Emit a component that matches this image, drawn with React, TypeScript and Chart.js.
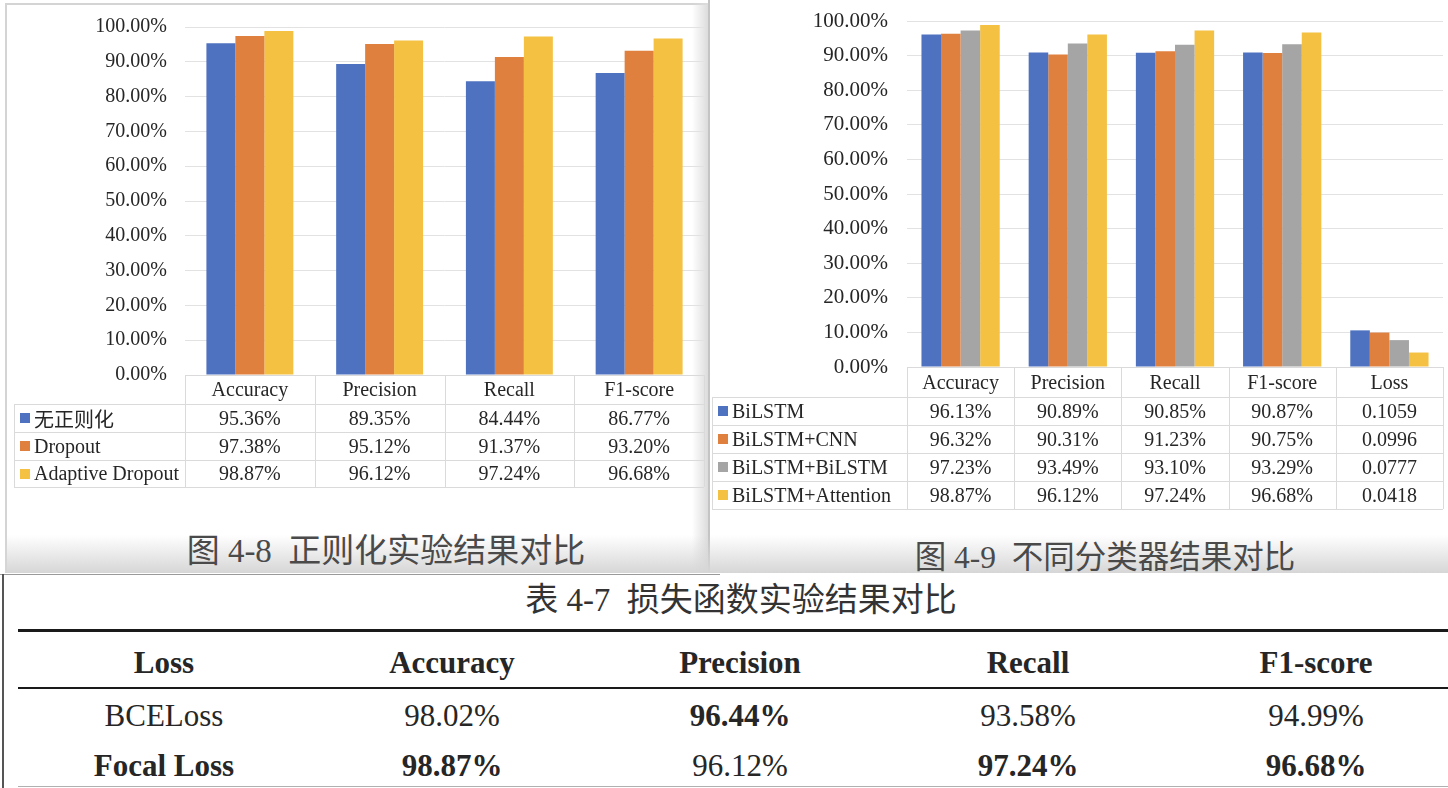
import React, { useEffect, useRef } from 'react';
import { Chart, registerables } from 'chart.js';

Chart.register(...registerables);

// ---------- Data: Fig 4-8 ----------
const leftCategories = ['Accuracy', 'Precision', 'Recall', 'F1-score'];
const leftSeriesNames = ['无正则化', 'Dropout', 'Adaptive Dropout'];
const leftNoReg = [95.36, 89.35, 84.44, 86.77];
const leftDropout = [97.38, 95.12, 91.37, 93.2];
const leftAdaptive = [98.87, 96.12, 97.24, 96.68];

// ---------- Data: Fig 4-9 ----------
const rightCategories = ['Accuracy', 'Precision', 'Recall', 'F1-score', 'Loss'];
const rightSeriesNames = ['BiLSTM', 'BiLSTM+CNN', 'BiLSTM+BiLSTM', 'BiLSTM+Attention'];
const rightBiLSTM = [96.13, 90.89, 90.85, 90.87];
const rightCNN = [96.32, 90.31, 91.23, 90.75];
const rightBiBi = [97.23, 93.49, 93.1, 93.29];
const rightAttention = [98.87, 96.12, 97.24, 96.68];
const rightLoss = [0.1059, 0.0996, 0.0777, 0.0418];

// ---------- Data: Table 4-7 ----------
const lossHeaders = ['Loss', 'Accuracy', 'Precision', 'Recall', 'F1-score'];
const lossNames = ['BCELoss', 'Focal Loss'];
const bceValues = [98.02, 96.44, 93.58, 94.99];
const focalValues = [98.87, 96.12, 97.24, 96.68];

// ---------- Axis ----------
const yMin = 0;
const yMax = 100;
const yStep = 10;

const seriesColors = ['#4e72c0', '#e0803f', '#a5a5a5', '#f4c142'];
const SERIF = '"Liberation Serif", "Times New Roman", "Noto Sans CJK SC", serif';
const TEXT = '#262626';
const LINE = '#dadada';

const pct = (v: number) => v.toFixed(2) + '%';

type BarProps = {
  width: number;
  height: number;
  categories: string[];
  series: { name: string; data: number[]; color: string }[];
  padding: { top: number; right: number; bottom: number; left: number };
  axisWidth: number;
  tickGap: number;
  tickSize: number;
  groupFraction: number;
  style: React.CSSProperties;
};

function BarChart(props: BarProps) {
  const ref = useRef<HTMLCanvasElement | null>(null);
  useEffect(() => {
    if (!ref.current) return;
    const chart = new Chart(ref.current, {
      type: 'bar',
      data: {
        labels: props.categories,
        datasets: props.series.map((s) => ({
          label: s.name,
          data: s.data,
          backgroundColor: s.color,
          borderWidth: 0,
          barPercentage: 1,
          categoryPercentage: props.groupFraction,
        })),
      },
      options: {
        responsive: false,
        animation: false,
        layout: { padding: props.padding },
        plugins: { legend: { display: false }, tooltip: { enabled: false } },
        scales: {
          x: { display: false, grid: { display: false } },
          y: {
            min: yMin,
            max: yMax,
            ticks: {
              stepSize: yStep,
              padding: 0,
              color: TEXT,
              font: { family: SERIF, size: props.tickSize },
              callback: (v: any) => pct(Number(v)),
            },
            grid: {
              color: '#e2e2e2',
              drawTicks: true,
              tickLength: props.tickGap,
              tickColor: 'rgba(0,0,0,0)',
              lineWidth: 1,
            },
            border: { display: false },
            afterFit: (s: any) => {
              s.width = props.axisWidth;
            },
          },
        },
      } as any,
    });
    return () => chart.destroy();
  }, []);
  return (
    <canvas
      ref={ref}
      width={props.width}
      height={props.height}
      style={{ position: 'absolute', display: 'block', ...props.style }}
    />
  );
}

const HLine = ({ x1, x2, y, c = LINE, w = 1 }: any) => (
  <div style={{ position: 'absolute', left: x1, top: y, width: x2 - x1, height: w, background: c }} />
);
const VLine = ({ x, y1, y2, c = LINE, w = 1 }: any) => (
  <div style={{ position: 'absolute', left: x, top: y1, width: w, height: y2 - y1, background: c }} />
);
const Cell = ({ x, y, w, h, children, size = 20, bold = false, align = 'center', color = TEXT }: any) => (
  <div
    style={{
      position: 'absolute',
      left: x,
      top: y,
      width: w,
      height: h,
      display: 'flex',
      alignItems: 'center',
      justifyContent: align === 'center' ? 'center' : 'flex-start',
      fontFamily: SERIF,
      fontSize: size,
      fontWeight: bold ? 'bold' : 'normal',
      color,
      whiteSpace: 'pre',
    }}
  >
    {children}
  </div>
);

function DataTable({
  left,
  right,
  legendLeft,
  top,
  headerH,
  rowTops,
  categories,
  names,
  colors,
  values,
}: any) {
  const n = categories.length;
  const cw = (right - left) / n;
  const bottom = rowTops[rowTops.length - 1];
  const els: any[] = [];
  els.push(<HLine key="t" x1={left} x2={right} y={top} />);
  for (let i = 0; i <= n; i++) {
    els.push(<VLine key={'v' + i} x={Math.round(left + i * cw)} y1={top} y2={bottom} />);
  }
  els.push(<VLine key="vl" x={legendLeft} y1={rowTops[0]} y2={bottom} />);
  rowTops.forEach((y: number, i: number) => {
    els.push(<HLine key={'h' + i} x1={legendLeft} x2={right} y={y} />);
  });
  categories.forEach((c: string, i: number) => {
    els.push(
      <Cell key={'c' + i} x={left + i * cw} y={top} w={cw} h={headerH}>
        {c}
      </Cell>
    );
  });
  names.forEach((nm: string, r: number) => {
    const y = rowTops[r];
    const h = rowTops[r + 1] - y;
    els.push(
      <div
        key={'sq' + r}
        style={{ position: 'absolute', left: legendLeft + 6, top: y + h / 2 - 5, width: 10, height: 10, background: colors[r] }}
      />
    );
    els.push(
      <Cell key={'n' + r} x={legendLeft + 20} y={y} w={left - legendLeft - 20} h={h} align="left">
        {nm}
      </Cell>
    );
    values[r].forEach((v: string, i: number) => {
      els.push(
        <Cell key={'d' + r + '_' + i} x={left + i * cw} y={y} w={cw} h={h}>
          {v}
        </Cell>
      );
    });
  });
  return <>{els}</>;
}

export default function App() {
  const leftSeries = [leftNoReg, leftDropout, leftAdaptive].map((d, i) => ({
    name: leftSeriesNames[i],
    data: d,
    color: seriesColors[i === 2 ? 3 : i],
  }));
  const leftColors = [seriesColors[0], seriesColors[1], seriesColors[3]];
  const rightRaw = [rightBiLSTM, rightCNN, rightBiBi, rightAttention];
  const rightSeries = rightRaw.map((d, i) => ({
    name: rightSeriesNames[i],
    data: [...d, rightLoss[i] * 100],
    color: seriesColors[i],
  }));

  const leftValues = [leftNoReg, leftDropout, leftAdaptive].map((d) => d.map(pct));
  const rightValues = rightRaw.map((d, i) => [...d.map(pct), rightLoss[i].toFixed(4)]);

  const lossRows = [bceValues, focalValues];
  const colStart = 20;
  const colW = 288;

  return (
    <div
      style={{
        position: 'absolute',
        left: 0,
        top: 0,
        width: 1448,
        height: 788,
        overflow: 'hidden',
        background: '#ffffff',
      }}
    >
      {/* left panel frame */}
      <HLine x1={5} x2={710} y={3} c="#d4d4d4" w={2} />
      <VLine x={5} y1={3} y2={572} c="#d4d4d4" w={2} />
      <div
        style={{
          position: 'absolute',
          left: 692,
          top: 3,
          width: 16,
          height: 570,
          background: 'linear-gradient(to right, rgba(230,230,230,0), #dcdcdc)',
        }}
      />
      <VLine x={708} y1={0} y2={572} c="#c4c4c4" w={2} />
      <div
        style={{
          position: 'absolute',
          left: 5,
          top: 535,
          width: 1443,
          height: 38,
          background: 'linear-gradient(to bottom, rgba(235,235,235,0), #d6d6d6)',
        }}
      />

      <BarChart
        width={708}
        height={390}
        categories={leftCategories}
        series={leftSeries}
        padding={{ top: 27, right: 4, bottom: 15, left: 0 }}
        axisWidth={185}
        tickGap={18}
        tickSize={20}
        groupFraction={0.67}
        style={{ left: 0, top: 0 }}
      />
      <DataTable
        left={185}
        right={704}
        legendLeft={14}
        top={375}
        headerH={29}
        rowTops={[404, 432, 460, 487]}
        categories={leftCategories}
        names={leftSeriesNames}
        colors={leftColors}
        values={leftValues}
      />
      <Cell x={100} y={528} w={572} h={40} size={33} color="#4a4a4a">
        {'图 4-8  正则化实验结果对比'}
      </Cell>

      <BarChart
        width={738}
        height={382}
        categories={rightCategories}
        series={rightSeries}
        padding={{ top: 21, right: 5, bottom: 15, left: 0 }}
        axisWidth={197}
        tickGap={19}
        tickSize={21}
        groupFraction={0.73}
        style={{ left: 710, top: 0 }}
      />
      <DataTable
        left={907}
        right={1443}
        legendLeft={712}
        top={367}
        headerH={30}
        rowTops={[397, 425, 453, 481, 509]}
        categories={rightCategories}
        names={rightSeriesNames}
        colors={seriesColors}
        values={rightValues}
      />
      <Cell x={820} y={534} w={570} h={40} size={31.5} color="#4a4a4a">
        {'图 4-9  不同分类器结果对比'}
      </Cell>

      {/* bottom table */}
      <div style={{ position: 'absolute', left: 0, top: 574, width: 1448, height: 214, background: '#fff' }} />
      <HLine x1={0} x2={720} y={574} c="#9a9a9a" w={1} />
      <VLine x={2} y1={574} y2={788} c="#555" w={2} />
      <Cell x={400} y={577} w={682} h={40} size={33} color="#333">
        {'表 4-7  损失函数实验结果对比'}
      </Cell>
      <HLine x1={18} x2={1448} y={629} c="#1a1a1a" w={3} />
      <HLine x1={18} x2={1448} y={687} c="#1a1a1a" w={2} />
      <HLine x1={18} x2={1448} y={786} c="#b0b0b0" w={1} />
      {lossHeaders.map((h, i) => (
        <Cell key={'lh' + i} x={colStart + i * colW} y={641} w={colW} h={44} size={31} bold>
          {h}
        </Cell>
      ))}
      {lossRows.map((row, r) => (
        <React.Fragment key={'lr' + r}>
          <Cell x={colStart} y={r === 0 ? 694 : 744} w={colW} h={44} size={31} bold={r === 1}>
            {lossNames[r]}
          </Cell>
          {row.map((v, i) => {
            const best = v >= Math.max(...lossRows.map((rr) => rr[i]));
            return (
              <Cell
                key={'lv' + i}
                x={colStart + (i + 1) * colW}
                y={r === 0 ? 694 : 744}
                w={colW}
                h={44}
                size={31}
                bold={best}
              >
                {pct(v)}
              </Cell>
            );
          })}
        </React.Fragment>
      ))}
    </div>
  );
}
